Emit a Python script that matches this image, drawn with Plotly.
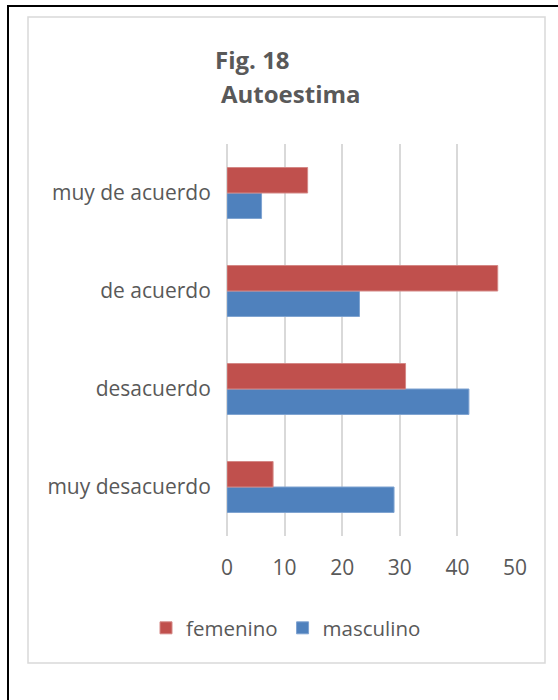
import plotly.graph_objects as go

categories = ["muy desacuerdo", "desacuerdo", "de acuerdo", "muy de acuerdo"]
femenino = [8, 31, 47, 14]
masculino = [29, 42, 23, 6]
x_ticks = [0, 10, 20, 30, 40, 50]

FONT = "Open Sans"
TXT = "#595959"
RED = "#C0504D"
BLUE = "#4F81BD"

W, H = 558, 700
# plot area in page pixels
L, R, T, B = 227, 515, 144, 536


def px_x(p):
    return (p - L) / (R - L)


def px_y(p):
    return (B - p) / (B - T)


fig = go.Figure()
fig.add_trace(go.Bar(y=categories, x=masculino, name="masculino", orientation="h",
                     marker=dict(color=BLUE, line=dict(color="#7FA3D1", width=1))))
fig.add_trace(go.Bar(y=categories, x=femenino, name="femenino", orientation="h",
                     marker=dict(color=RED, line=dict(color="#D48886", width=1))))

fig.update_layout(
    width=W, height=H,
    margin=dict(l=L, r=W - R, t=T, b=H - B, pad=0),
    paper_bgcolor="white", plot_bgcolor="white",
    barmode="group", bargap=0.48, bargroupgap=0,
    font=dict(family=FONT, color=TXT, size=20),
    showlegend=True,
    legend=dict(orientation="h", traceorder="reversed", xref="container", yref="container",
                x=286 / W, y=1 - 628 / H, xanchor="center", yanchor="middle",
                font=dict(family=FONT, size=20.5, color=TXT), itemwidth=30,
                bgcolor="rgba(0,0,0,0)"),
    xaxis=dict(range=[0, 50], tickvals=x_ticks, ticktext=[str(v) for v in x_ticks],
               showgrid=True, gridcolor="#D9D9D9", gridwidth=1.5,
               zeroline=True, zerolinecolor="#D9D9D9", zerolinewidth=1.5,
               showline=False, ticks="outside", ticklen=13, tickcolor="rgba(0,0,0,0)",
               tickfont=dict(family=FONT, size=21, color=TXT), fixedrange=True),
    yaxis=dict(categoryorder="array", categoryarray=categories, showgrid=False,
               zeroline=False, showline=False, ticks="outside", ticklen=11,
               tickcolor="rgba(0,0,0,0)",
               tickfont=dict(family=FONT, size=21, color=TXT), fixedrange=True),
    shapes=[
        dict(type="rect", xref="paper", yref="paper", layer="below",
             x0=px_x(8), x1=px_x(700), y0=px_y(900), y1=px_y(6),
             line=dict(color="black", width=2), fillcolor="rgba(0,0,0,0)"),
        dict(type="rect", xref="paper", yref="paper", layer="below",
             x0=px_x(28), x1=px_x(545), y0=px_y(663), y1=px_y(17),
             line=dict(color="#D9D9D9", width=1.5), fillcolor="rgba(0,0,0,0)"),
    ],
    annotations=[
        dict(text="<b>Fig. 18</b>", xref="paper", yref="paper", x=px_x(213), y=px_y(59),
             xanchor="left", yanchor="middle", showarrow=False,
             font=dict(family=FONT, size=24, color=TXT)),
        dict(text="<b>Autoestima</b>", xref="paper", yref="paper", x=px_x(219), y=px_y(94),
             xanchor="left", yanchor="middle", showarrow=False,
             font=dict(family=FONT, size=24, color=TXT)),
    ],
)

fig.write_html(
    "out.html",
    config={"displayModeBar": False},
    post_script="document.body.style.margin='0';document.body.style.overflow='hidden';",
)
